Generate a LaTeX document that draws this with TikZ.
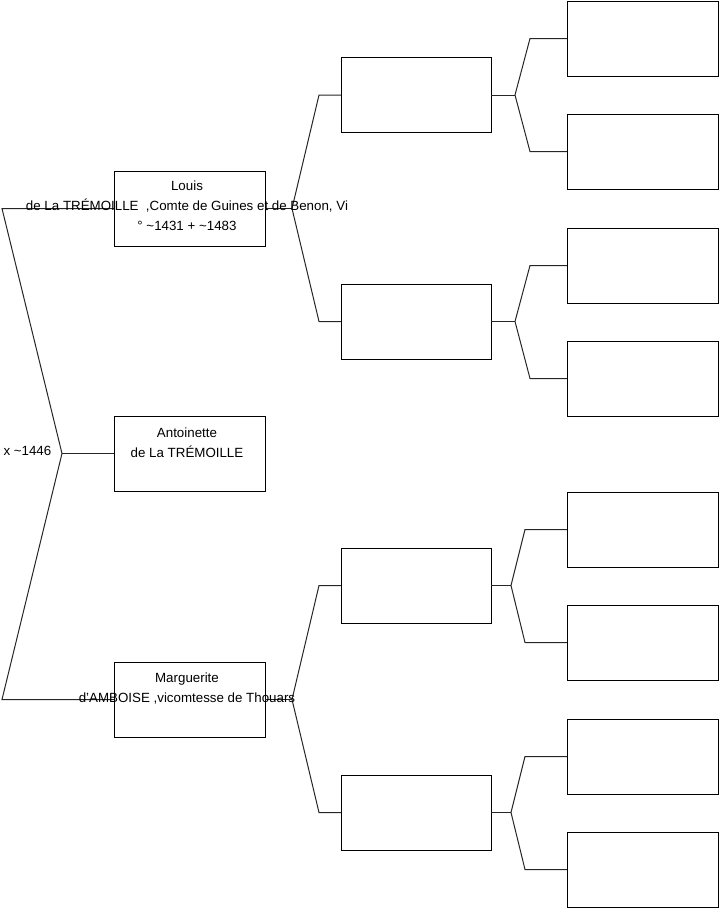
\documentclass[tikz,border=0pt]{standalone}
\usepackage{fontspec}
\setmainfont{Liberation Sans}
\begin{document}
\begin{tikzpicture}[x=1pt,y=-1pt,
  person/.style={draw=black,line width=1pt,fill=white,minimum width=151pt,minimum height=75pt,inner sep=0pt,outer sep=0pt},
  txt/.style={anchor=base,inner sep=0pt,font=\fontsize{13.33}{20}\selectfont},
  conn/.style={draw=black!85,line width=1pt}]
\useasboundingbox (0,0) rectangle (719,908);
% generation 1
\node[person] (L) at (189.5,208.5) {};
\node[person] (T) at (189.5,453.5) {};
\node[person] (M) at (189.5,699.5) {};
% generation 2
\node[person,minimum width=150pt] (A) at (416,95) {};
\node[person,minimum width=150pt] (B) at (416,321.5) {};
\node[person,minimum width=150pt] (C) at (416,585.5) {};
\node[person,minimum width=150pt] (D) at (416,812.5) {};
% generation 3
\node[person] (A1) at (642.5,38.5) {};
\node[person] (A2) at (642.5,151.5) {};
\node[person] (B1) at (642.5,265.5) {};
\node[person] (B2) at (642.5,378.5) {};
\node[person] (C1) at (642.5,529.5) {};
\node[person] (C2) at (642.5,642.5) {};
\node[person] (D1) at (642.5,756.5) {};
\node[person] (D2) at (642.5,869.5) {};
% connectors gen1
\draw[conn] (L.west) -- ([xshift=-112]L.west) -- ([xshift=-52]T.west) -- ([xshift=-112]M.west) -- (M.west);
\draw[conn] ([xshift=-52]T.west) -- (T.west);
% connectors gen2
\draw[conn] (L.east) -- ([xshift=27]L.east) coordinate (fL);
\draw[conn] (A.west) -- ([xshift=-22]A.west) -- (fL) -- ([xshift=-22]B.west) -- (B.west);
\draw[conn] (M.east) -- ([xshift=27]M.east) coordinate (fM);
\draw[conn] (C.west) -- ([xshift=-22]C.west) -- (fM) -- ([xshift=-22]D.west) -- (D.west);
% connectors gen3
\draw[conn] (A.east) -- ([xshift=24]A.east) coordinate (fA);
\draw[conn] (A1.west) -- ([xshift=-37]A1.west) -- (fA) -- ([xshift=-37]A2.west) -- (A2.west);
\draw[conn] (B.east) -- ([xshift=24]B.east) coordinate (fB);
\draw[conn] (B1.west) -- ([xshift=-37]B1.west) -- (fB) -- ([xshift=-37]B2.west) -- (B2.west);
\draw[conn] (C.east) -- ([xshift=20]C.east) coordinate (fC);
\draw[conn] (C1.west) -- ([xshift=-42]C1.west) -- (fC) -- ([xshift=-42]C2.west) -- (C2.west);
\draw[conn] (D.east) -- ([xshift=20]D.east) coordinate (fD);
\draw[conn] (D1.west) -- ([xshift=-42]D1.west) -- (fD) -- ([xshift=-42]D2.west) -- (D2.west);
% texts
\node[txt] (l1) at (187,190.7) {Louis};
\node[txt] (l2) at (187,210.7) {de La TRÉMOILLE~~,Comte de Guines et de Benon, Vi};
\node[txt] (l3) at (187,230.7) {° \textasciitilde1431 + \textasciitilde1483};
\node[txt] (t1) at (187,437.7) {Antoinette};
\node[txt] (t2) at (187,457.7) {de La TRÉMOILLE};
\node[txt] (m1) at (187,682.3) {Marguerite};
\node[txt] (m2) at (187,702.3) {d'AMBOISE ,vicomtesse de Thouars};
\node[txt,anchor=base west] (x) at (3.3,455.5) {x \textasciitilde1446};
\end{tikzpicture}
\end{document}
